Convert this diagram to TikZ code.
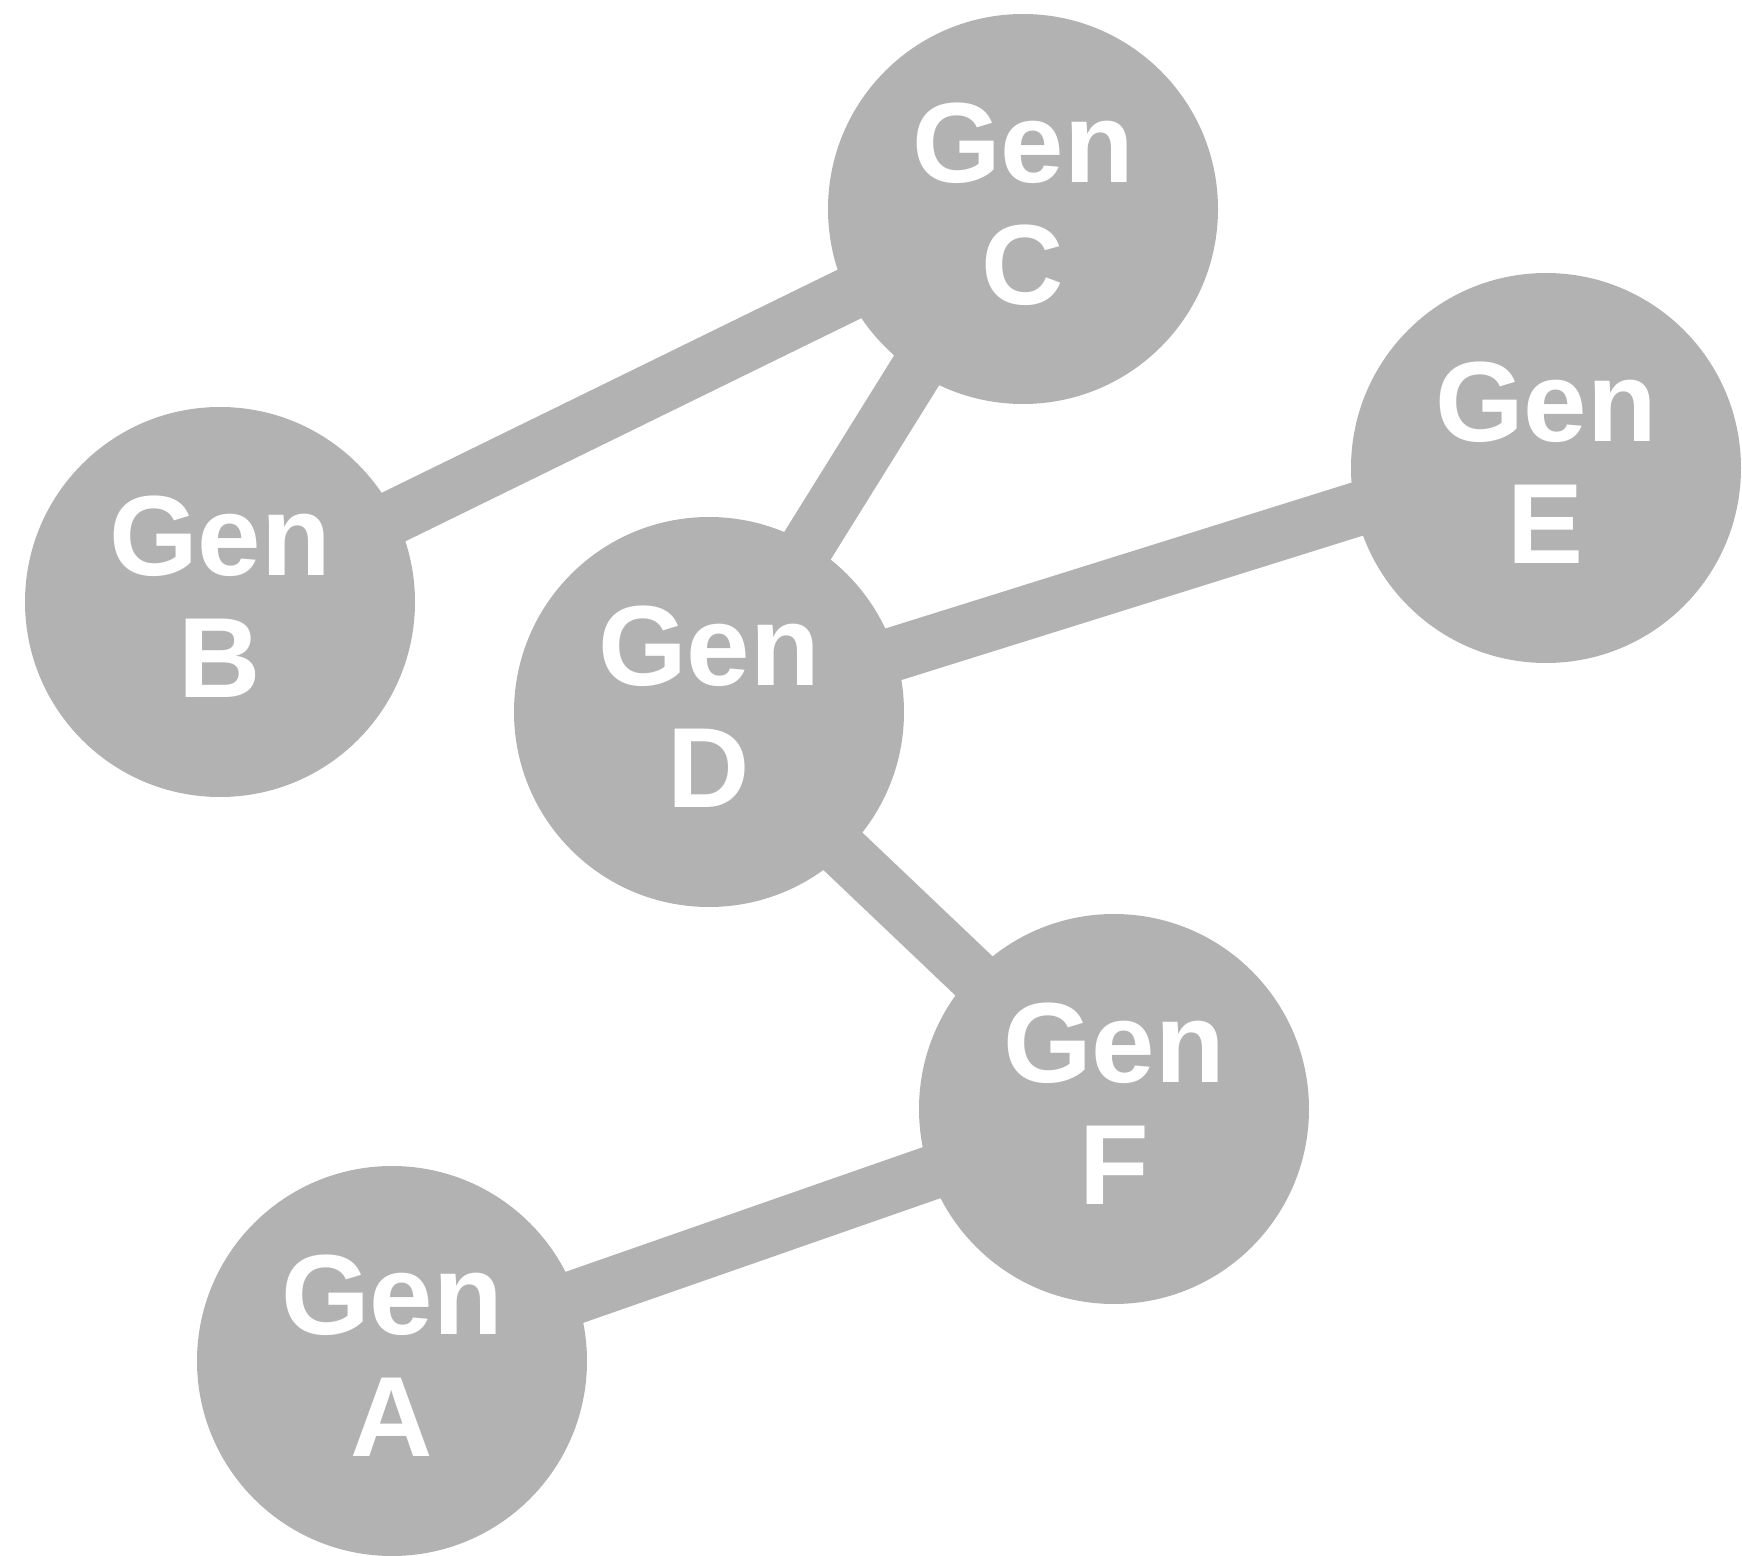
\documentclass[tikz,border=0pt]{standalone}
\usepackage{fontspec}
\setmainfont{Liberation Sans}
\definecolor{gengray}{HTML}{B2B2B2}
\begin{document}
\begin{tikzpicture}[x=0.5pt,y=-0.5pt,
  gene/.style={circle,fill=gengray,minimum size=195pt,inner sep=0pt,
    text=white,align=center,text depth=5pt,
    font=\bfseries\fontsize{57}{61}\selectfont},
  link/.style={draw=gengray,line width=27pt}]
\useasboundingbox (0,0) rectangle (1742,1556);
\coordinate (cC) at (1023,209);
\coordinate (cB) at (220,602);
\coordinate (cD) at (709,712);
\coordinate (cE) at (1546,468);
\coordinate (cF) at (1114,1109);
\coordinate (cA) at (392,1361);
% connector end points
\coordinate (eCD) at (1017,209);
\coordinate (eDC) at (704,712);
\coordinate (eED) at (1546,450);
\coordinate (eDF) at (709,724);
\draw[link] (cB) -- (cC);
\draw[link] (eCD) -- (eDC);
\draw[link] (cD) -- (eED);
\draw[link] (eDF) -- (cF);
\draw[link] (cF) -- (cA);
\node[gene] (C) at (cC) {Gen\\C};
\node[gene] (B) at (cB) {Gen\\B};
\node[gene] (D) at (cD) {Gen\\D};
\node[gene] (E) at (cE) {Gen\\E};
\node[gene] (F) at (cF) {Gen\\F};
\node[gene] (A) at (cA) {Gen\\A};
\end{tikzpicture}
\end{document}
